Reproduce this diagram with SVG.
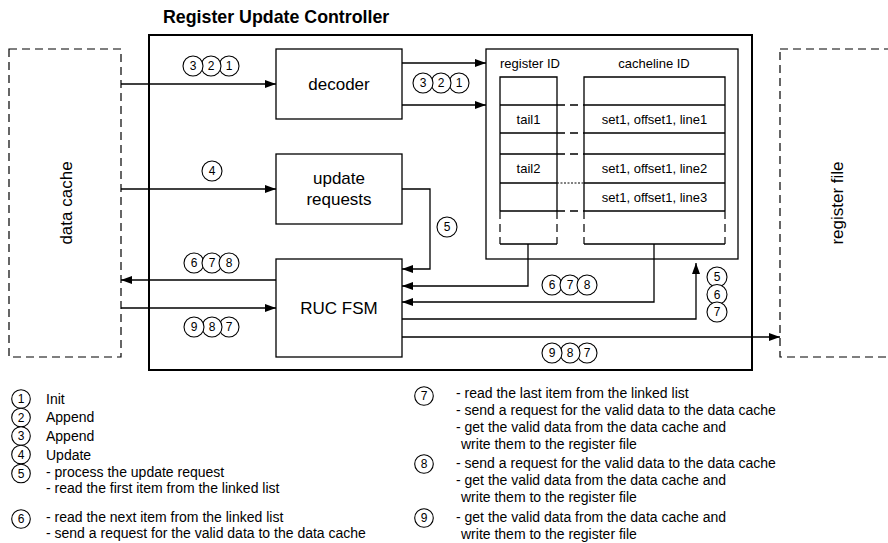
<svg xmlns="http://www.w3.org/2000/svg" width="888" height="543" viewBox="0 0 888 543">
<defs>
<marker id="ah" markerUnits="userSpaceOnUse" markerWidth="11" markerHeight="8" refX="11" refY="4" orient="auto">
<path d="M0,0 L11,4 L0,8 z" fill="#000"/>
</marker>
<style>
text{font-family:"Liberation Sans",Arial,sans-serif;fill:#000}
.box{fill:#fff;stroke:#000;stroke-width:1.3}
.dash{fill:none;stroke:#000;stroke-width:1.2;stroke-dasharray:8 5}
.ln{fill:none;stroke:#000;stroke-width:1.3}
.con{fill:none;stroke:#000;stroke-width:1.3;marker-end:url(#ah)}
.c{fill:#fff;stroke:#000;stroke-width:1.1}
.n{font-size:12px;text-anchor:middle}
.lbl{font-size:17px;text-anchor:middle}
.sm{font-size:13px}
.lg{font-size:14px}
</style>
</defs>
<rect width="888" height="543" fill="#fff"/>

<text x="163" y="23" style="font-size:17.8px;font-weight:bold">Register Update Controller</text>

<g id="data-cache">
<rect x="9" y="49" width="112" height="308" class="dash"/>
<text class="lbl" transform="translate(72,203) rotate(-90)">data cache</text>
</g>
<g id="register-file">
<rect x="780" y="49" width="120" height="308" class="dash"/>
<text class="lbl" transform="translate(843,203) rotate(-90)">register file</text>
</g>

<g id="ruc">
<rect x="149" y="35" width="603" height="335" fill="none" stroke="#000" stroke-width="2"/>
</g>

<g id="decoder">
<rect x="276" y="49" width="126" height="70" class="box"/>
<text x="339" y="90" class="lbl">decoder</text>
</g>
<g id="update-requests">
<rect x="276" y="154" width="126" height="70" class="box"/>
<text x="339" y="184" class="lbl">update</text>
<text x="339" y="205" class="lbl">requests</text>
</g>
<g id="ruc-fsm">
<rect x="276" y="259" width="126" height="98" class="box"/>
<text x="339" y="314" class="lbl">RUC FSM</text>
</g>

<g id="linked-list">
<rect x="486" y="49" width="252" height="210" class="box"/>
<text x="500" y="68" class="sm">register ID</text>
<text x="654" y="68" class="sm" text-anchor="middle">cacheline ID</text>
<path class="ln" d="M500,211 V77 H557 V211 M500,105 H557 M500,133 H557 M500,154 H557 M500,183 H557 M500,211 H557"/>
<path class="ln" d="M584,211 V77 H725 V211 M584,105 H725 M584,133 H725 M584,154 H725 M584,183 H725 M584,211 H725"/>
<path class="dash" d="M500,211 V244 M557,211 V244 M584,211 V244 M725,211 V244"/>
<path class="ln" d="M500,244 H557 M584,244 H725"/>
<path class="ln" style="stroke-dasharray:8 5" d="M557,105 H584 M557,133 H584 M557,154 H584 M557,211 H584"/>
<path class="ln" style="stroke-dasharray:2 1.5;stroke-width:1" d="M557,183 H584"/>
<text x="528.5" y="124" class="sm" text-anchor="middle">tail1</text>
<text x="528.5" y="173" class="sm" text-anchor="middle">tail2</text>
<text x="654.5" y="124" class="sm" text-anchor="middle">set1, offset1, line1</text>
<text x="654.5" y="173" class="sm" text-anchor="middle">set1, offset1, line2</text>
<text x="654.5" y="202" class="sm" text-anchor="middle">set1, offset1, line3</text>
</g>

<g id="connectors">
<path class="con" d="M121,84 H276"/>
<path class="con" d="M121,189 H276"/>
<path class="con" d="M402,63 H486"/>
<path class="con" d="M402,105 H486"/>
<path class="con" d="M402,189 H430 V269 H402"/>
<path class="con" d="M528,244 V286 H402"/>
<path class="con" d="M654,244 V302 H402"/>
<path class="con" d="M402,319 H696 V263"/>
<path class="con" d="M402,337 H780"/>
<path class="con" d="M276,280 H121"/>
<path class="con" d="M121,308 H276"/>
</g>

<g id="step-labels">
<circle cx="229" cy="66" r="10" class="c"/><text x="229" y="70" class="n">1</text>
<circle cx="211" cy="66" r="10" class="c"/><text x="211" y="70" class="n">2</text>
<circle cx="193" cy="66" r="10" class="c"/><text x="193" y="70" class="n">3</text>
<circle cx="459" cy="83" r="10" class="c"/><text x="459" y="87" class="n">1</text>
<circle cx="441" cy="83" r="10" class="c"/><text x="441" y="87" class="n">2</text>
<circle cx="423" cy="83" r="10" class="c"/><text x="423" y="87" class="n">3</text>
<circle cx="212" cy="171" r="10" class="c"/><text x="212" y="175" class="n">4</text>
<circle cx="447" cy="227" r="10" class="c"/><text x="447" y="231" class="n">5</text>
<circle cx="194" cy="263" r="10" class="c"/><text x="194" y="267" class="n">6</text>
<circle cx="212" cy="263" r="10" class="c"/><text x="212" y="267" class="n">7</text>
<circle cx="229" cy="263" r="10" class="c"/><text x="229" y="267" class="n">8</text>
<circle cx="229" cy="327" r="10" class="c"/><text x="229" y="331" class="n">7</text>
<circle cx="212" cy="327" r="10" class="c"/><text x="212" y="331" class="n">8</text>
<circle cx="194" cy="327" r="10" class="c"/><text x="194" y="331" class="n">9</text>
<circle cx="552" cy="285" r="10" class="c"/><text x="552" y="289" class="n">6</text>
<circle cx="570" cy="285" r="10" class="c"/><text x="570" y="289" class="n">7</text>
<circle cx="587" cy="285" r="10" class="c"/><text x="587" y="289" class="n">8</text>
<circle cx="587" cy="353" r="10" class="c"/><text x="587" y="357" class="n">7</text>
<circle cx="570" cy="353" r="10" class="c"/><text x="570" y="357" class="n">8</text>
<circle cx="552" cy="353" r="10" class="c"/><text x="552" y="357" class="n">9</text>
<circle cx="717" cy="277" r="10" class="c"/><text x="717" y="281" class="n">5</text>
<circle cx="717" cy="294.5" r="10" class="c"/><text x="717" y="298.5" class="n">6</text>
<circle cx="717" cy="312" r="10" class="c"/><text x="717" y="316" class="n">7</text>
</g>

<g id="legend">
<circle cx="21" cy="399" r="9.3" class="c"/><text x="21" y="403" class="n">1</text>
<circle cx="21" cy="417.5" r="9.3" class="c"/><text x="21" y="421.5" class="n">2</text>
<circle cx="21" cy="436" r="9.3" class="c"/><text x="21" y="440" class="n">3</text>
<circle cx="21" cy="454.5" r="9.3" class="c"/><text x="21" y="458.5" class="n">4</text>
<circle cx="21" cy="473.5" r="9.3" class="c"/><text x="21" y="477.5" class="n">5</text>
<circle cx="21" cy="519" r="9.3" class="c"/><text x="21" y="523" class="n">6</text>
<text class="lg" x="46" y="404">Init</text>
<text class="lg" x="46" y="422">Append</text>
<text class="lg" x="46" y="441">Append</text>
<text class="lg" x="46" y="460">Update</text>
<text class="lg" x="46" y="477">- process the update request</text>
<text class="lg" x="46" y="493">- read the first item from the linked list</text>
<text class="lg" x="46" y="522">- read the next item from the linked list</text>
<text class="lg" x="46" y="538">- send a request for the valid data to the data cache</text>

<circle cx="424" cy="396" r="9.3" class="c"/><text x="424" y="400" class="n">7</text>
<circle cx="424" cy="464" r="9.3" class="c"/><text x="424" y="468" class="n">8</text>
<circle cx="424" cy="518" r="9.3" class="c"/><text x="424" y="522" class="n">9</text>
<text class="lg" x="456" y="398">- read the last item from the linked list</text>
<text class="lg" x="456" y="415">- send a request for the valid data to the data cache</text>
<text class="lg" x="456" y="432">- get the valid data from the data cache and</text>
<text class="lg" x="461" y="449">write them to the register file</text>
<text class="lg" x="456" y="468">- send a request for the valid data to the data cache</text>
<text class="lg" x="456" y="485">- get the valid data from the data cache and</text>
<text class="lg" x="461" y="502">write them to the register file</text>
<text class="lg" x="456" y="522">- get the valid data from the data cache and</text>
<text class="lg" x="461" y="539">write them to the register file</text>
</g>
</svg>
